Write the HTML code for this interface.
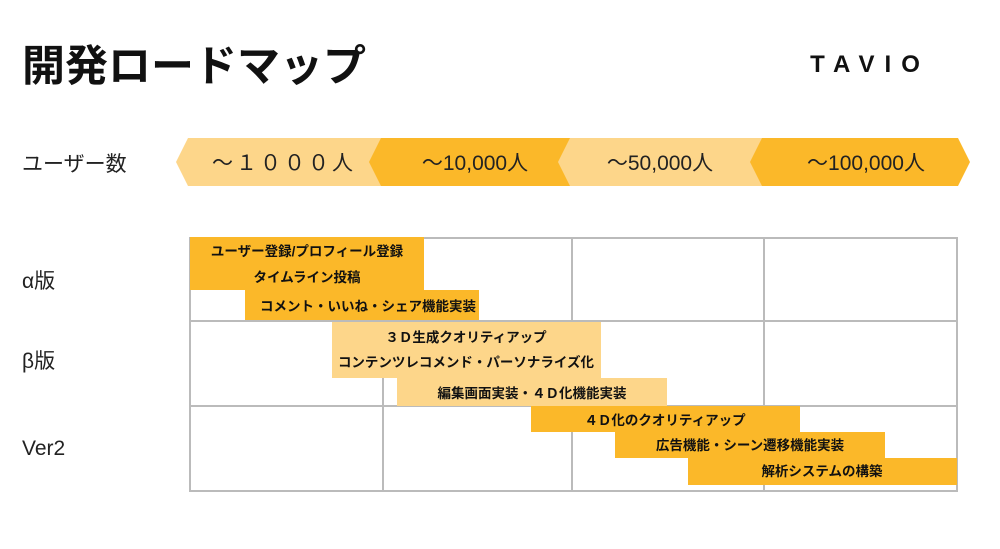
<!DOCTYPE html><html><head><meta charset="utf-8"><style>
body{margin:0;width:1000px;height:544px;background:#fff;overflow:hidden;font-family:"Liberation Sans","Noto Sans CJK JP",sans-serif;}
svg text{font-family:"Liberation Sans","Noto Sans CJK JP",sans-serif;}
</style></head><body>
<svg width="1000" height="544" viewBox="0 0 1000 544">
<text x="22" y="81" font-size="43" font-weight="bold" fill="#111">開発ロードマップ</text>
<text x="870" y="72" font-size="24" font-weight="bold" fill="#111" letter-spacing="10" text-anchor="middle">TAVIO</text>
<text x="22" y="171" font-size="21" fill="#222">ユーザー数</text>
<polygon points="176,162 188,138 381,138 381,186 188,186" fill="#FDD68A"/>
<polygon points="369,162 381,138 570,138 570,186 381,186" fill="#FBB829"/>
<polygon points="558,162 570,138 762,138 762,186 570,186" fill="#FDD68A"/>
<polygon points="750,162 762,138 958,138 970,162 958,186 762,186" fill="#FBB829"/>
<g font-size="21" fill="#222" text-anchor="middle">
<text x="284" y="170" letter-spacing="3">～１０００人</text>
<text x="475" y="170">～10,000人</text>
<text x="660" y="170">～50,000人</text>
<text x="866" y="170">～100,000人</text>
</g>
<g font-size="21" fill="#222">
<text x="22" y="288">α版</text>
<text x="22" y="368">β版</text>
<text x="22" y="455">Ver2</text>
</g>
<g stroke="#bbb" stroke-width="2" fill="none">
<rect x="190" y="238" width="767" height="253"/>
<line x1="190" y1="321" x2="957" y2="321"/>
<line x1="190" y1="406" x2="957" y2="406"/>
<line x1="383" y1="238" x2="383" y2="491"/>
<line x1="572" y1="238" x2="572" y2="491"/>
<line x1="764" y1="238" x2="764" y2="491"/>
</g>
<g>
<rect x="190" y="237" width="234" height="53" fill="#FBB829"/>
<rect x="245" y="290" width="234" height="30" fill="#FBB829"/>
<rect x="332" y="322" width="269" height="56" fill="#FDD68A"/>
<rect x="397" y="378" width="270" height="28" fill="#FDD68A"/>
<rect x="531" y="406" width="269" height="26" fill="#FBB829"/>
<rect x="615" y="432" width="270" height="26" fill="#FBB829"/>
<rect x="688" y="458" width="269" height="27" fill="#FBB829"/>
</g>
<g font-size="13.5" font-weight="bold" fill="#111" text-anchor="middle">
<text x="307" y="256">ユーザー登録/プロフィール登録</text>
<text x="307" y="282">タイムライン投稿</text>
<text x="368" y="311">コメント・いいね・シェア機能実装</text>
<text x="466" y="342">３Ｄ生成クオリティアップ</text>
<text x="466" y="367">コンテンツレコメンド・パーソナライズ化</text>
<text x="532" y="398">編集画面実装・４Ｄ化機能実装</text>
<text x="665" y="425">４Ｄ化のクオリティアップ</text>
<text x="750" y="450">広告機能・シーン遷移機能実装</text>
<text x="822" y="476">解析システムの構築</text>
</g>
</svg>
</body></html>
